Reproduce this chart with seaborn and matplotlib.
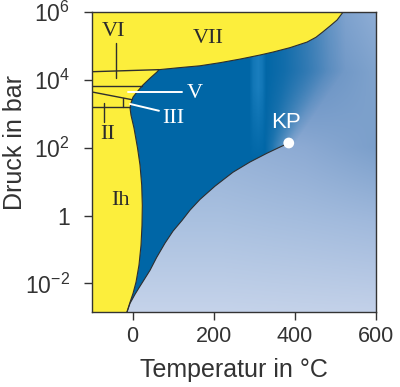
import numpy as np
import pandas as pd
import seaborn as sns
import matplotlib
matplotlib.use("Agg")
import matplotlib.pyplot as plt
from matplotlib.path import Path
from matplotlib.patches import PathPatch

# phase boundaries (T in degC, p in bar)
melt_T = [-15, -6.3, 1.1, 8.5, 15.8, 20.8, 23.2, 24, 22.5, 18.3, 12.2, 3.5, -3.9, -6.3,
          -3.9, 1.1, 10.9, 25.7, 43, 60, 65]
melt_p = [1.3e-3, 2.8e-3, 5.1e-3, 1.1e-2, 3.5e-2, 0.135, 0.52, 2.0, 7.9, 31, 98, 380, 910,
          1.48e3, 2.1e3, 3.1e3, 4.4e3, 7.1e3, 1.12e4, 1.7e4, 2.0e4]

vii_T = [65, 117, 166, 215, 265, 314, 346, 388, 430, 452, 469, 487, 504, 519]
vii_p = [2.0e4, 2.3e4, 2.6e4, 3.2e4, 4.1e4, 5.4e4, 6.6e4, 8.9e4, 1.3e5, 1.8e5, 2.6e5,
         3.9e5, 5.8e5, 1.0e6]

vap_T = [-15, -6.3, 6, 18.3, 30.6, 43, 59.5, 80, 99.7, 121.8, 141.6, 166.2, 203.2, 247.5,
         289.4, 331.3, 363.4, 385]
vap_p = [1.3e-3, 2.6e-3, 4.8e-3, 8.3e-3, 1.42e-2, 2.45e-2, 5.9e-2, 0.155, 0.35, 0.72,
         1.45, 3.0, 7.4, 19, 38, 69, 105, 138]

kp_T, kp_p = 385, 138

# lines between the ice phases
ice_lines_T = [[-100, 65], [-100, 23], [-100, -1], [-100, -6], [-22.5, -22.5]]
ice_lines_p = [[1.74e4, 2.0e4], [6.6e3, 6.6e3], [4.4e3, 2.6e3], [1.55e3, 1.55e3], [2.84e3, 1.55e3]]

# pointer lines for labels
dark_ptr_T = [[-40, -40], [-70, -70]]
dark_ptr_p = [[1.23e5, 1.12e4], [2.1e3, 575]]
white_ptr_T = [[-11, 122], [-6, 65]]
white_ptr_p = [[4.5e3, 4.5e3], [1.95e3, 1.23e3]]

labels = ["VI", "VII", "V", "III", "II", "Ih"]
label_T = [-46, 186, 154, 100, -62, -31]
label_p = [2.75e5, 1.7e5, 4.1e3, 740, 250, 2.8]
label_col = ["#2b2b2b", "#2b2b2b", "white", "white", "#2b2b2b", "#2b2b2b"]

yticks = [1e-2, 1, 1e2, 1e4, 1e6]
ytick_labels = ["$10^{-2}$", "1", "$10^{2}$", "$10^{4}$", "$10^{6}$"]
xticks = [0, 200, 400, 600]

sns.set_theme(style="ticks")
plt.rcParams["font.family"] = ["Liberation Sans", "DejaVu Sans"]
plt.rcParams["mathtext.fontset"] = "custom"
plt.rcParams["mathtext.rm"] = "Liberation Sans"
plt.rcParams["mathtext.it"] = "Liberation Sans"

xmin, xmax = -100, 600
ymin, ymax = 10 ** -2.84, 1e6

fig = plt.figure(figsize=(4.0, 3.87), dpi=100)
ax = fig.add_axes([92 / 400, 75 / 387, 284 / 400, 300 / 387])

# background gradient (vapour / supercritical), axes coordinates
ny, nx = 300, 284
uu = np.linspace(0, 1, nx)
vv = np.linspace(0, 1, ny)
bg_u = [0.45, 0.75, 1.0]
bg_v = [0, 0.3, 0.55, 0.8, 1.0]
bg_rgb = np.array([
    [(197, 211, 234), (170, 193, 224), (150, 178, 215), (80, 130, 185), (80, 130, 185)],
    [(196, 210, 233), (165, 189, 222), (140, 170, 211), (95, 140, 192), (105, 148, 197)],
    [(195, 209, 233), (160, 185, 220), (123, 159, 203), (128, 163, 205), (142, 173, 213)],
]) / 255
cols = np.array([[np.interp(vv, bg_v, bg_rgb[i, :, k]) for k in range(3)] for i in range(3)])
bg = np.empty((ny, nx, 3))
for r in range(ny):
    for k in range(3):
        bg[r, :, k] = np.interp(uu, bg_u, cols[:, k, r])
ax.imshow(bg, extent=[0, 1, 0, 1], transform=ax.transAxes, origin="lower",
          aspect="auto", zorder=0, interpolation="bilinear")

# liquid water: dark blue fading into the supercritical region
TT = xmin + (xmax - xmin) * uu
v_kp = 0.56
band_row = np.interp(TT, [288, 298, 310, 320, 330], [0, 0.6, 0.85, 0.6, 0])
dark = np.array([0, 102, 166]) / 255
light = np.array([30, 130, 194]) / 255
liq = np.empty((ny, nx, 4))
for r in range(ny):
    fade_end = 400 + 125 * np.clip((vv[r] - v_kp) / 0.25, 0, 1)
    s = (TT - 326) / (fade_end - 326)
    b = band_row * np.clip((vv[r] - 0.5) / 0.25, 0, 1)
    liq[r, :, :3] = dark[None, :] * (1 - b[:, None]) + light[None, :] * b[:, None]
    liq[r, :, 3] = np.interp(s, [0, 0.25, 0.55, 0.8, 1], [1, 0.8, 0.45, 0.15, 0])
im = ax.imshow(liq, extent=[0, 1, 0, 1], transform=ax.transAxes, origin="lower",
               aspect="auto", zorder=1, interpolation="bilinear")

liq_T = melt_T + vii_T[1:] + [xmax, xmax, kp_T] + vap_T[::-1][1:]
liq_p = melt_p + vii_p[1:] + [ymax * 1.5, kp_p, kp_p] + vap_p[::-1][1:]
clip = PathPatch(Path(np.column_stack([liq_T, liq_p])), transform=ax.transData,
                 facecolor="none", edgecolor="none")
ax.add_patch(clip)
im.set_clip_path(clip)

# ice (yellow)
ice_T = [xmin - 10] + melt_T + vii_T[1:] + [vii_T[-1], xmin - 10]
ice_p = [1.3e-3] + melt_p + vii_p[1:] + [ymax * 2, ymax * 2]
ax.fill(ice_T, ice_p, color="#fcee3c", lw=0, zorder=2)

edge = "#2e2e2e"
bd = pd.DataFrame({"T": melt_T + vii_T[1:], "p": melt_p + vii_p[1:]})
sns.lineplot(data=bd, x="T", y="p", sort=False, estimator=None, color=edge, lw=0.8, ax=ax, zorder=3)
vd = pd.DataFrame({"T": vap_T, "p": vap_p})
sns.lineplot(data=vd, x="T", y="p", sort=False, estimator=None, color=edge, lw=0.8, ax=ax, zorder=3)

for t, p in zip(ice_lines_T, ice_lines_p):
    ax.plot(t, p, color=edge, lw=1.0, zorder=3)
for t, p in zip(dark_ptr_T, dark_ptr_p):
    ax.plot(t, p, color=edge, lw=1.0, zorder=3)
for t, p in zip(white_ptr_T, white_ptr_p):
    ax.plot(t, p, color="white", lw=1.4, zorder=3)

for s, t, p, c in zip(labels, label_T, label_p, label_col):
    ax.text(t, p, s, family="Liberation Serif", fontsize=16, color=c,
            ha="center", va="center", zorder=5)

sns.scatterplot(x=[kp_T], y=[kp_p], s=60, color="white", edgecolor="none", ax=ax, zorder=6)
ax.text(378, 540, "KP", fontsize=16, color="white", ha="center", va="center", zorder=6)

ax.set_yscale("log")
ax.set_xlim(xmin, xmax)
ax.set_ylim(ymin, ymax)
ax.set_xticks(xticks)
ax.set_yticks(yticks)
ax.set_yticklabels(ytick_labels)
ax.minorticks_off()
ax.tick_params(axis="both", direction="out", length=6, width=1, color="#333333",
               labelcolor="#333333")
ax.tick_params(axis="x", labelsize=15.5, pad=4)
ax.tick_params(axis="y", labelsize=16.5, pad=10)
for sp in ax.spines.values():
    sp.set_color("#333333")
    sp.set_linewidth(1.0)
    sp.set_zorder(7)

ax.set_xlabel("Temperatur in °C", fontsize=18, color="#333333", labelpad=8)
ax.set_ylabel("Druck in bar", fontsize=18, color="#333333")
ax.yaxis.set_label_coords(-0.228, 0.565)

fig.savefig("out.png", dpi=100)
